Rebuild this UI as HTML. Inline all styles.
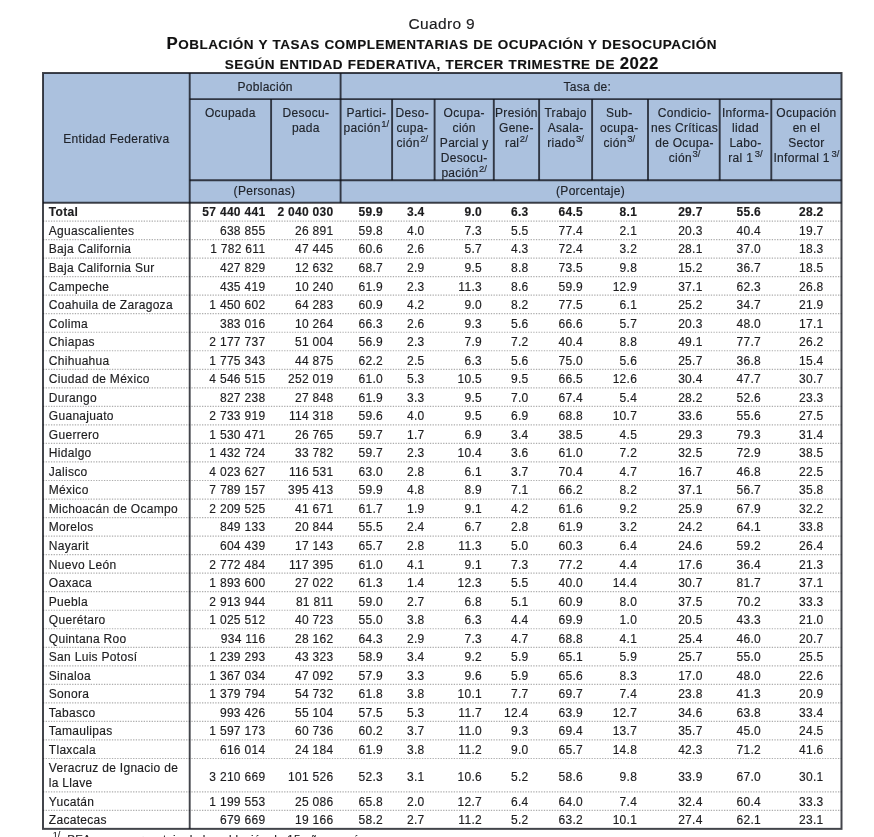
<!DOCTYPE html>
<html lang="es"><head><meta charset="utf-8"><title>Cuadro 9</title>
<style>
html,body{margin:0;padding:0;background:#fff;}
body{width:874px;height:837px;overflow:hidden;position:relative;font-family:"Liberation Sans",Arial,sans-serif;color:#1c1c1e;font-size:12px;letter-spacing:0.3px;-webkit-text-stroke:0.15px #1c1c1e;}
#lines{position:absolute;left:0;top:0;}
.t{position:absolute;left:4.8px;width:874px;text-align:center;white-space:nowrap;}
.t1{top:14.8px;font-size:15.5px;line-height:18px;text-indent:0px;letter-spacing:0.35px;}
.t2,.t3{font-weight:bold;font-size:13.5px;line-height:20px;letter-spacing:0.48px;word-spacing:0.5px;color:#111;}
.t2{top:33.5px;text-indent:0px;}
.t3{top:54.1px;text-indent:0px;letter-spacing:0.46px;}
.big{font-size:16.8px;}
.h{position:absolute;color:#20242b;-webkit-text-stroke-color:#20242b;text-align:center;line-height:15px;white-space:nowrap;}
.h sup{font-size:9.5px;line-height:0;vertical-align:baseline;position:relative;top:-4.5px;letter-spacing:0;margin-left:0.5px;}
.h sup.g{margin-left:1.6px;}
.r{position:absolute;left:0;width:874px;height:18.533px;line-height:18.533px;white-space:nowrap;}
.r.b{font-weight:bold;}
.r span{position:absolute;top:0.9px;}
.r .n{left:48.8px;}
.r .v{text-align:right;width:90px;}
.r.two{height:33.3px;line-height:33.3px;}
.r.two .n{line-height:14.8px;top:2.8px;}
.r.two .v{top:2.2px;}
.fn{position:absolute;left:67.3px;top:832.2px;font-size:11.4px;line-height:14px;white-space:nowrap;}
.fs{position:absolute;left:52.8px;top:829.5px;font-size:9px;line-height:10px;white-space:nowrap;letter-spacing:0;}
</style></head><body>
<svg id="lines" width="874" height="837" viewBox="0 0 874 837"><rect x="43" y="73" width="798.5" height="129.7" fill="#abc1de"/>
<line x1="43" y1="221.03" x2="841.5" y2="221.03" stroke="#adadad" stroke-width="1.2" stroke-dasharray="1.3 1.35"/>
<line x1="43" y1="239.57" x2="841.5" y2="239.57" stroke="#adadad" stroke-width="1.2" stroke-dasharray="1.3 1.35"/>
<line x1="43" y1="258.1" x2="841.5" y2="258.1" stroke="#adadad" stroke-width="1.2" stroke-dasharray="1.3 1.35"/>
<line x1="43" y1="276.63" x2="841.5" y2="276.63" stroke="#adadad" stroke-width="1.2" stroke-dasharray="1.3 1.35"/>
<line x1="43" y1="295.17" x2="841.5" y2="295.17" stroke="#adadad" stroke-width="1.2" stroke-dasharray="1.3 1.35"/>
<line x1="43" y1="313.7" x2="841.5" y2="313.7" stroke="#adadad" stroke-width="1.2" stroke-dasharray="1.3 1.35"/>
<line x1="43" y1="332.23" x2="841.5" y2="332.23" stroke="#adadad" stroke-width="1.2" stroke-dasharray="1.3 1.35"/>
<line x1="43" y1="350.76" x2="841.5" y2="350.76" stroke="#adadad" stroke-width="1.2" stroke-dasharray="1.3 1.35"/>
<line x1="43" y1="369.3" x2="841.5" y2="369.3" stroke="#adadad" stroke-width="1.2" stroke-dasharray="1.3 1.35"/>
<line x1="43" y1="387.83" x2="841.5" y2="387.83" stroke="#adadad" stroke-width="1.2" stroke-dasharray="1.3 1.35"/>
<line x1="43" y1="406.36" x2="841.5" y2="406.36" stroke="#adadad" stroke-width="1.2" stroke-dasharray="1.3 1.35"/>
<line x1="43" y1="424.9" x2="841.5" y2="424.9" stroke="#adadad" stroke-width="1.2" stroke-dasharray="1.3 1.35"/>
<line x1="43" y1="443.43" x2="841.5" y2="443.43" stroke="#adadad" stroke-width="1.2" stroke-dasharray="1.3 1.35"/>
<line x1="43" y1="461.96" x2="841.5" y2="461.96" stroke="#adadad" stroke-width="1.2" stroke-dasharray="1.3 1.35"/>
<line x1="43" y1="480.5" x2="841.5" y2="480.5" stroke="#adadad" stroke-width="1.2" stroke-dasharray="1.3 1.35"/>
<line x1="43" y1="499.03" x2="841.5" y2="499.03" stroke="#adadad" stroke-width="1.2" stroke-dasharray="1.3 1.35"/>
<line x1="43" y1="517.56" x2="841.5" y2="517.56" stroke="#adadad" stroke-width="1.2" stroke-dasharray="1.3 1.35"/>
<line x1="43" y1="536.09" x2="841.5" y2="536.09" stroke="#adadad" stroke-width="1.2" stroke-dasharray="1.3 1.35"/>
<line x1="43" y1="554.63" x2="841.5" y2="554.63" stroke="#adadad" stroke-width="1.2" stroke-dasharray="1.3 1.35"/>
<line x1="43" y1="573.16" x2="841.5" y2="573.16" stroke="#adadad" stroke-width="1.2" stroke-dasharray="1.3 1.35"/>
<line x1="43" y1="591.69" x2="841.5" y2="591.69" stroke="#adadad" stroke-width="1.2" stroke-dasharray="1.3 1.35"/>
<line x1="43" y1="610.23" x2="841.5" y2="610.23" stroke="#adadad" stroke-width="1.2" stroke-dasharray="1.3 1.35"/>
<line x1="43" y1="628.76" x2="841.5" y2="628.76" stroke="#adadad" stroke-width="1.2" stroke-dasharray="1.3 1.35"/>
<line x1="43" y1="647.29" x2="841.5" y2="647.29" stroke="#adadad" stroke-width="1.2" stroke-dasharray="1.3 1.35"/>
<line x1="43" y1="665.83" x2="841.5" y2="665.83" stroke="#adadad" stroke-width="1.2" stroke-dasharray="1.3 1.35"/>
<line x1="43" y1="684.36" x2="841.5" y2="684.36" stroke="#adadad" stroke-width="1.2" stroke-dasharray="1.3 1.35"/>
<line x1="43" y1="702.89" x2="841.5" y2="702.89" stroke="#adadad" stroke-width="1.2" stroke-dasharray="1.3 1.35"/>
<line x1="43" y1="721.42" x2="841.5" y2="721.42" stroke="#adadad" stroke-width="1.2" stroke-dasharray="1.3 1.35"/>
<line x1="43" y1="739.96" x2="841.5" y2="739.96" stroke="#adadad" stroke-width="1.2" stroke-dasharray="1.3 1.35"/>
<line x1="43" y1="758.49" x2="841.5" y2="758.49" stroke="#adadad" stroke-width="1.2" stroke-dasharray="1.3 1.35"/>
<line x1="43" y1="791.79" x2="841.5" y2="791.79" stroke="#adadad" stroke-width="1.2" stroke-dasharray="1.3 1.35"/>
<line x1="43" y1="810.32" x2="841.5" y2="810.32" stroke="#adadad" stroke-width="1.2" stroke-dasharray="1.3 1.35"/>
<rect x="43" y="73" width="798.5" height="755.86" fill="none" stroke="rgba(14,17,24,0.78)" stroke-width="2"/>
<line x1="189.7" y1="99.1" x2="841.5" y2="99.1" stroke="rgba(14,17,24,0.78)" stroke-width="1.9" />
<line x1="189.7" y1="180.2" x2="841.5" y2="180.2" stroke="rgba(14,17,24,0.78)" stroke-width="1.9" />
<line x1="43" y1="202.7" x2="841.5" y2="202.7" stroke="rgba(14,17,24,0.78)" stroke-width="2" />
<line x1="189.7" y1="73" x2="189.7" y2="828.8560000000004" stroke="rgba(14,17,24,0.78)" stroke-width="1.9"/>
<line x1="340.6" y1="73" x2="340.6" y2="202.7" stroke="rgba(14,17,24,0.78)" stroke-width="1.9"/>
<line x1="271.1" y1="99.1" x2="271.1" y2="180.2" stroke="rgba(14,17,24,0.78)" stroke-width="1.9"/>
<line x1="392.1" y1="99.1" x2="392.1" y2="180.2" stroke="rgba(14,17,24,0.78)" stroke-width="1.9"/>
<line x1="434.6" y1="99.1" x2="434.6" y2="180.2" stroke="rgba(14,17,24,0.78)" stroke-width="1.9"/>
<line x1="493.8" y1="99.1" x2="493.8" y2="180.2" stroke="rgba(14,17,24,0.78)" stroke-width="1.9"/>
<line x1="539.1" y1="99.1" x2="539.1" y2="180.2" stroke="rgba(14,17,24,0.78)" stroke-width="1.9"/>
<line x1="592.1" y1="99.1" x2="592.1" y2="180.2" stroke="rgba(14,17,24,0.78)" stroke-width="1.9"/>
<line x1="648" y1="99.1" x2="648" y2="180.2" stroke="rgba(14,17,24,0.78)" stroke-width="1.9"/>
<line x1="719.7" y1="99.1" x2="719.7" y2="180.2" stroke="rgba(14,17,24,0.78)" stroke-width="1.9"/>
<line x1="771.3" y1="99.1" x2="771.3" y2="180.2" stroke="rgba(14,17,24,0.78)" stroke-width="1.9"/></svg>
<div class="t t1">Cuadro 9</div>
<div class="t t2"><span class="big">P</span>OBLACIÓN Y TASAS COMPLEMENTARIAS DE OCUPACIÓN Y DESOCUPACIÓN</div>
<div class="t t3">SEGÚN ENTIDAD FEDERATIVA, TERCER TRIMESTRE DE <span class="big">2022</span></div>
<div class="h" style="left:43px;width:146.7px;top:131.7px">Entidad Federativa</div>
<div class="h" style="left:189.7px;width:150.9px;top:79.5px">Población</div>
<div class="h" style="left:336.9px;width:500.9px;top:79.5px">Tasa de:</div>
<div class="h" style="left:189.7px;width:81.4px;top:105.7px">Ocupada</div>
<div class="h" style="left:271.1px;width:69.5px;top:105.7px">Desocu-<br>pada</div>
<div class="h" style="left:340.6px;width:51.5px;top:105.7px">Partici-<br>pación<sup>1/</sup></div>
<div class="h" style="left:391.0px;width:42.5px;top:105.7px">Deso-<br>cupa-<br>ción<sup>2/</sup></div>
<div class="h" style="left:434.6px;width:59.2px;top:105.7px">Ocupa-<br>ción<br>Parcial y<br>Desocu-<br>pación<sup>2/</sup></div>
<div class="h" style="left:493.8px;width:45.3px;top:105.7px">Presión<br>Gene-<br>ral<sup>2/</sup></div>
<div class="h" style="left:539.1px;width:53.0px;top:105.7px">Trabajo<br>Asala-<br>riado<sup>3/</sup></div>
<div class="h" style="left:591.4px;width:55.9px;top:105.7px">Sub-<br>ocupa-<br>ción<sup>3/</sup></div>
<div class="h" style="left:648.7px;width:71.7px;top:105.7px">Condicio-<br>nes Críticas<br>de Ocupa-<br>ción<sup>3/</sup></div>
<div class="h" style="left:719.7px;width:51.6px;top:105.7px">Informa-<br>lidad<br>Labo-<br>ral 1<sup class="g">3/</sup></div>
<div class="h" style="left:771.3px;width:70.2px;top:105.7px">Ocupación<br>en el<br>Sector<br>Informal 1<sup class="g">3/</sup></div>
<div class="h" style="left:189.0px;width:150.9px;top:184.4px">(Personas)</div>
<div class="h" style="left:340.1px;width:500.9px;top:184.4px">(Porcentaje)</div>
<div class="r b" style="top:202.5px"><span class="n">Total</span><span class="v" style="left:175.4px">57 440 441</span><span class="v" style="left:243.5px">2 040 030</span><span class="v" style="left:293.1px">59.9</span><span class="v" style="left:334.6px">3.4</span><span class="v" style="left:392px">9.0</span><span class="v" style="left:438.6px">6.3</span><span class="v" style="left:493.1px">64.5</span><span class="v" style="left:547.2px">8.1</span><span class="v" style="left:612.7px">29.7</span><span class="v" style="left:671px">55.6</span><span class="v" style="left:733.5px">28.2</span></div>
<div class="r" style="top:221.03px"><span class="n">Aguascalientes</span><span class="v" style="left:175.4px">638 855</span><span class="v" style="left:243.5px">26 891</span><span class="v" style="left:293.1px">59.8</span><span class="v" style="left:334.6px">4.0</span><span class="v" style="left:392px">7.3</span><span class="v" style="left:438.6px">5.5</span><span class="v" style="left:493.1px">77.4</span><span class="v" style="left:547.2px">2.1</span><span class="v" style="left:612.7px">20.3</span><span class="v" style="left:671px">40.4</span><span class="v" style="left:733.5px">19.7</span></div>
<div class="r" style="top:239.57px"><span class="n">Baja California</span><span class="v" style="left:175.4px">1 782 611</span><span class="v" style="left:243.5px">47 445</span><span class="v" style="left:293.1px">60.6</span><span class="v" style="left:334.6px">2.6</span><span class="v" style="left:392px">5.7</span><span class="v" style="left:438.6px">4.3</span><span class="v" style="left:493.1px">72.4</span><span class="v" style="left:547.2px">3.2</span><span class="v" style="left:612.7px">28.1</span><span class="v" style="left:671px">37.0</span><span class="v" style="left:733.5px">18.3</span></div>
<div class="r" style="top:258.1px"><span class="n">Baja California Sur</span><span class="v" style="left:175.4px">427 829</span><span class="v" style="left:243.5px">12 632</span><span class="v" style="left:293.1px">68.7</span><span class="v" style="left:334.6px">2.9</span><span class="v" style="left:392px">9.5</span><span class="v" style="left:438.6px">8.8</span><span class="v" style="left:493.1px">73.5</span><span class="v" style="left:547.2px">9.8</span><span class="v" style="left:612.7px">15.2</span><span class="v" style="left:671px">36.7</span><span class="v" style="left:733.5px">18.5</span></div>
<div class="r" style="top:276.63px"><span class="n">Campeche</span><span class="v" style="left:175.4px">435 419</span><span class="v" style="left:243.5px">10 240</span><span class="v" style="left:293.1px">61.9</span><span class="v" style="left:334.6px">2.3</span><span class="v" style="left:392px">11.3</span><span class="v" style="left:438.6px">8.6</span><span class="v" style="left:493.1px">59.9</span><span class="v" style="left:547.2px">12.9</span><span class="v" style="left:612.7px">37.1</span><span class="v" style="left:671px">62.3</span><span class="v" style="left:733.5px">26.8</span></div>
<div class="r" style="top:295.17px"><span class="n">Coahuila de Zaragoza</span><span class="v" style="left:175.4px">1 450 602</span><span class="v" style="left:243.5px">64 283</span><span class="v" style="left:293.1px">60.9</span><span class="v" style="left:334.6px">4.2</span><span class="v" style="left:392px">9.0</span><span class="v" style="left:438.6px">8.2</span><span class="v" style="left:493.1px">77.5</span><span class="v" style="left:547.2px">6.1</span><span class="v" style="left:612.7px">25.2</span><span class="v" style="left:671px">34.7</span><span class="v" style="left:733.5px">21.9</span></div>
<div class="r" style="top:313.7px"><span class="n">Colima</span><span class="v" style="left:175.4px">383 016</span><span class="v" style="left:243.5px">10 264</span><span class="v" style="left:293.1px">66.3</span><span class="v" style="left:334.6px">2.6</span><span class="v" style="left:392px">9.3</span><span class="v" style="left:438.6px">5.6</span><span class="v" style="left:493.1px">66.6</span><span class="v" style="left:547.2px">5.7</span><span class="v" style="left:612.7px">20.3</span><span class="v" style="left:671px">48.0</span><span class="v" style="left:733.5px">17.1</span></div>
<div class="r" style="top:332.23px"><span class="n">Chiapas</span><span class="v" style="left:175.4px">2 177 737</span><span class="v" style="left:243.5px">51 004</span><span class="v" style="left:293.1px">56.9</span><span class="v" style="left:334.6px">2.3</span><span class="v" style="left:392px">7.9</span><span class="v" style="left:438.6px">7.2</span><span class="v" style="left:493.1px">40.4</span><span class="v" style="left:547.2px">8.8</span><span class="v" style="left:612.7px">49.1</span><span class="v" style="left:671px">77.7</span><span class="v" style="left:733.5px">26.2</span></div>
<div class="r" style="top:350.76px"><span class="n">Chihuahua</span><span class="v" style="left:175.4px">1 775 343</span><span class="v" style="left:243.5px">44 875</span><span class="v" style="left:293.1px">62.2</span><span class="v" style="left:334.6px">2.5</span><span class="v" style="left:392px">6.3</span><span class="v" style="left:438.6px">5.6</span><span class="v" style="left:493.1px">75.0</span><span class="v" style="left:547.2px">5.6</span><span class="v" style="left:612.7px">25.7</span><span class="v" style="left:671px">36.8</span><span class="v" style="left:733.5px">15.4</span></div>
<div class="r" style="top:369.3px"><span class="n">Ciudad de México</span><span class="v" style="left:175.4px">4 546 515</span><span class="v" style="left:243.5px">252 019</span><span class="v" style="left:293.1px">61.0</span><span class="v" style="left:334.6px">5.3</span><span class="v" style="left:392px">10.5</span><span class="v" style="left:438.6px">9.5</span><span class="v" style="left:493.1px">66.5</span><span class="v" style="left:547.2px">12.6</span><span class="v" style="left:612.7px">30.4</span><span class="v" style="left:671px">47.7</span><span class="v" style="left:733.5px">30.7</span></div>
<div class="r" style="top:387.83px"><span class="n">Durango</span><span class="v" style="left:175.4px">827 238</span><span class="v" style="left:243.5px">27 848</span><span class="v" style="left:293.1px">61.9</span><span class="v" style="left:334.6px">3.3</span><span class="v" style="left:392px">9.5</span><span class="v" style="left:438.6px">7.0</span><span class="v" style="left:493.1px">67.4</span><span class="v" style="left:547.2px">5.4</span><span class="v" style="left:612.7px">28.2</span><span class="v" style="left:671px">52.6</span><span class="v" style="left:733.5px">23.3</span></div>
<div class="r" style="top:406.36px"><span class="n">Guanajuato</span><span class="v" style="left:175.4px">2 733 919</span><span class="v" style="left:243.5px">114 318</span><span class="v" style="left:293.1px">59.6</span><span class="v" style="left:334.6px">4.0</span><span class="v" style="left:392px">9.5</span><span class="v" style="left:438.6px">6.9</span><span class="v" style="left:493.1px">68.8</span><span class="v" style="left:547.2px">10.7</span><span class="v" style="left:612.7px">33.6</span><span class="v" style="left:671px">55.6</span><span class="v" style="left:733.5px">27.5</span></div>
<div class="r" style="top:424.9px"><span class="n">Guerrero</span><span class="v" style="left:175.4px">1 530 471</span><span class="v" style="left:243.5px">26 765</span><span class="v" style="left:293.1px">59.7</span><span class="v" style="left:334.6px">1.7</span><span class="v" style="left:392px">6.9</span><span class="v" style="left:438.6px">3.4</span><span class="v" style="left:493.1px">38.5</span><span class="v" style="left:547.2px">4.5</span><span class="v" style="left:612.7px">29.3</span><span class="v" style="left:671px">79.3</span><span class="v" style="left:733.5px">31.4</span></div>
<div class="r" style="top:443.43px"><span class="n">Hidalgo</span><span class="v" style="left:175.4px">1 432 724</span><span class="v" style="left:243.5px">33 782</span><span class="v" style="left:293.1px">59.7</span><span class="v" style="left:334.6px">2.3</span><span class="v" style="left:392px">10.4</span><span class="v" style="left:438.6px">3.6</span><span class="v" style="left:493.1px">61.0</span><span class="v" style="left:547.2px">7.2</span><span class="v" style="left:612.7px">32.5</span><span class="v" style="left:671px">72.9</span><span class="v" style="left:733.5px">38.5</span></div>
<div class="r" style="top:461.96px"><span class="n">Jalisco</span><span class="v" style="left:175.4px">4 023 627</span><span class="v" style="left:243.5px">116 531</span><span class="v" style="left:293.1px">63.0</span><span class="v" style="left:334.6px">2.8</span><span class="v" style="left:392px">6.1</span><span class="v" style="left:438.6px">3.7</span><span class="v" style="left:493.1px">70.4</span><span class="v" style="left:547.2px">4.7</span><span class="v" style="left:612.7px">16.7</span><span class="v" style="left:671px">46.8</span><span class="v" style="left:733.5px">22.5</span></div>
<div class="r" style="top:480.5px"><span class="n">México</span><span class="v" style="left:175.4px">7 789 157</span><span class="v" style="left:243.5px">395 413</span><span class="v" style="left:293.1px">59.9</span><span class="v" style="left:334.6px">4.8</span><span class="v" style="left:392px">8.9</span><span class="v" style="left:438.6px">7.1</span><span class="v" style="left:493.1px">66.2</span><span class="v" style="left:547.2px">8.2</span><span class="v" style="left:612.7px">37.1</span><span class="v" style="left:671px">56.7</span><span class="v" style="left:733.5px">35.8</span></div>
<div class="r" style="top:499.03px"><span class="n">Michoacán de Ocampo</span><span class="v" style="left:175.4px">2 209 525</span><span class="v" style="left:243.5px">41 671</span><span class="v" style="left:293.1px">61.7</span><span class="v" style="left:334.6px">1.9</span><span class="v" style="left:392px">9.1</span><span class="v" style="left:438.6px">4.2</span><span class="v" style="left:493.1px">61.6</span><span class="v" style="left:547.2px">9.2</span><span class="v" style="left:612.7px">25.9</span><span class="v" style="left:671px">67.9</span><span class="v" style="left:733.5px">32.2</span></div>
<div class="r" style="top:517.56px"><span class="n">Morelos</span><span class="v" style="left:175.4px">849 133</span><span class="v" style="left:243.5px">20 844</span><span class="v" style="left:293.1px">55.5</span><span class="v" style="left:334.6px">2.4</span><span class="v" style="left:392px">6.7</span><span class="v" style="left:438.6px">2.8</span><span class="v" style="left:493.1px">61.9</span><span class="v" style="left:547.2px">3.2</span><span class="v" style="left:612.7px">24.2</span><span class="v" style="left:671px">64.1</span><span class="v" style="left:733.5px">33.8</span></div>
<div class="r" style="top:536.09px"><span class="n">Nayarit</span><span class="v" style="left:175.4px">604 439</span><span class="v" style="left:243.5px">17 143</span><span class="v" style="left:293.1px">65.7</span><span class="v" style="left:334.6px">2.8</span><span class="v" style="left:392px">11.3</span><span class="v" style="left:438.6px">5.0</span><span class="v" style="left:493.1px">60.3</span><span class="v" style="left:547.2px">6.4</span><span class="v" style="left:612.7px">24.6</span><span class="v" style="left:671px">59.2</span><span class="v" style="left:733.5px">26.4</span></div>
<div class="r" style="top:554.63px"><span class="n">Nuevo León</span><span class="v" style="left:175.4px">2 772 484</span><span class="v" style="left:243.5px">117 395</span><span class="v" style="left:293.1px">61.0</span><span class="v" style="left:334.6px">4.1</span><span class="v" style="left:392px">9.1</span><span class="v" style="left:438.6px">7.3</span><span class="v" style="left:493.1px">77.2</span><span class="v" style="left:547.2px">4.4</span><span class="v" style="left:612.7px">17.6</span><span class="v" style="left:671px">36.4</span><span class="v" style="left:733.5px">21.3</span></div>
<div class="r" style="top:573.16px"><span class="n">Oaxaca</span><span class="v" style="left:175.4px">1 893 600</span><span class="v" style="left:243.5px">27 022</span><span class="v" style="left:293.1px">61.3</span><span class="v" style="left:334.6px">1.4</span><span class="v" style="left:392px">12.3</span><span class="v" style="left:438.6px">5.5</span><span class="v" style="left:493.1px">40.0</span><span class="v" style="left:547.2px">14.4</span><span class="v" style="left:612.7px">30.7</span><span class="v" style="left:671px">81.7</span><span class="v" style="left:733.5px">37.1</span></div>
<div class="r" style="top:591.69px"><span class="n">Puebla</span><span class="v" style="left:175.4px">2 913 944</span><span class="v" style="left:243.5px">81 811</span><span class="v" style="left:293.1px">59.0</span><span class="v" style="left:334.6px">2.7</span><span class="v" style="left:392px">6.8</span><span class="v" style="left:438.6px">5.1</span><span class="v" style="left:493.1px">60.9</span><span class="v" style="left:547.2px">8.0</span><span class="v" style="left:612.7px">37.5</span><span class="v" style="left:671px">70.2</span><span class="v" style="left:733.5px">33.3</span></div>
<div class="r" style="top:610.23px"><span class="n">Querétaro</span><span class="v" style="left:175.4px">1 025 512</span><span class="v" style="left:243.5px">40 723</span><span class="v" style="left:293.1px">55.0</span><span class="v" style="left:334.6px">3.8</span><span class="v" style="left:392px">6.3</span><span class="v" style="left:438.6px">4.4</span><span class="v" style="left:493.1px">69.9</span><span class="v" style="left:547.2px">1.0</span><span class="v" style="left:612.7px">20.5</span><span class="v" style="left:671px">43.3</span><span class="v" style="left:733.5px">21.0</span></div>
<div class="r" style="top:628.76px"><span class="n">Quintana Roo</span><span class="v" style="left:175.4px">934 116</span><span class="v" style="left:243.5px">28 162</span><span class="v" style="left:293.1px">64.3</span><span class="v" style="left:334.6px">2.9</span><span class="v" style="left:392px">7.3</span><span class="v" style="left:438.6px">4.7</span><span class="v" style="left:493.1px">68.8</span><span class="v" style="left:547.2px">4.1</span><span class="v" style="left:612.7px">25.4</span><span class="v" style="left:671px">46.0</span><span class="v" style="left:733.5px">20.7</span></div>
<div class="r" style="top:647.29px"><span class="n">San Luis Potosí</span><span class="v" style="left:175.4px">1 239 293</span><span class="v" style="left:243.5px">43 323</span><span class="v" style="left:293.1px">58.9</span><span class="v" style="left:334.6px">3.4</span><span class="v" style="left:392px">9.2</span><span class="v" style="left:438.6px">5.9</span><span class="v" style="left:493.1px">65.1</span><span class="v" style="left:547.2px">5.9</span><span class="v" style="left:612.7px">25.7</span><span class="v" style="left:671px">55.0</span><span class="v" style="left:733.5px">25.5</span></div>
<div class="r" style="top:665.83px"><span class="n">Sinaloa</span><span class="v" style="left:175.4px">1 367 034</span><span class="v" style="left:243.5px">47 092</span><span class="v" style="left:293.1px">57.9</span><span class="v" style="left:334.6px">3.3</span><span class="v" style="left:392px">9.6</span><span class="v" style="left:438.6px">5.9</span><span class="v" style="left:493.1px">65.6</span><span class="v" style="left:547.2px">8.3</span><span class="v" style="left:612.7px">17.0</span><span class="v" style="left:671px">48.0</span><span class="v" style="left:733.5px">22.6</span></div>
<div class="r" style="top:684.36px"><span class="n">Sonora</span><span class="v" style="left:175.4px">1 379 794</span><span class="v" style="left:243.5px">54 732</span><span class="v" style="left:293.1px">61.8</span><span class="v" style="left:334.6px">3.8</span><span class="v" style="left:392px">10.1</span><span class="v" style="left:438.6px">7.7</span><span class="v" style="left:493.1px">69.7</span><span class="v" style="left:547.2px">7.4</span><span class="v" style="left:612.7px">23.8</span><span class="v" style="left:671px">41.3</span><span class="v" style="left:733.5px">20.9</span></div>
<div class="r" style="top:702.89px"><span class="n">Tabasco</span><span class="v" style="left:175.4px">993 426</span><span class="v" style="left:243.5px">55 104</span><span class="v" style="left:293.1px">57.5</span><span class="v" style="left:334.6px">5.3</span><span class="v" style="left:392px">11.7</span><span class="v" style="left:438.6px">12.4</span><span class="v" style="left:493.1px">63.9</span><span class="v" style="left:547.2px">12.7</span><span class="v" style="left:612.7px">34.6</span><span class="v" style="left:671px">63.8</span><span class="v" style="left:733.5px">33.4</span></div>
<div class="r" style="top:721.42px"><span class="n">Tamaulipas</span><span class="v" style="left:175.4px">1 597 173</span><span class="v" style="left:243.5px">60 736</span><span class="v" style="left:293.1px">60.2</span><span class="v" style="left:334.6px">3.7</span><span class="v" style="left:392px">11.0</span><span class="v" style="left:438.6px">9.3</span><span class="v" style="left:493.1px">69.4</span><span class="v" style="left:547.2px">13.7</span><span class="v" style="left:612.7px">35.7</span><span class="v" style="left:671px">45.0</span><span class="v" style="left:733.5px">24.5</span></div>
<div class="r" style="top:739.96px"><span class="n">Tlaxcala</span><span class="v" style="left:175.4px">616 014</span><span class="v" style="left:243.5px">24 184</span><span class="v" style="left:293.1px">61.9</span><span class="v" style="left:334.6px">3.8</span><span class="v" style="left:392px">11.2</span><span class="v" style="left:438.6px">9.0</span><span class="v" style="left:493.1px">65.7</span><span class="v" style="left:547.2px">14.8</span><span class="v" style="left:612.7px">42.3</span><span class="v" style="left:671px">71.2</span><span class="v" style="left:733.5px">41.6</span></div>
<div class="r two" style="top:758.49px"><span class="n">Veracruz de Ignacio de<br>la Llave</span><span class="v" style="left:175.4px">3 210 669</span><span class="v" style="left:243.5px">101 526</span><span class="v" style="left:293.1px">52.3</span><span class="v" style="left:334.6px">3.1</span><span class="v" style="left:392px">10.6</span><span class="v" style="left:438.6px">5.2</span><span class="v" style="left:493.1px">58.6</span><span class="v" style="left:547.2px">9.8</span><span class="v" style="left:612.7px">33.9</span><span class="v" style="left:671px">67.0</span><span class="v" style="left:733.5px">30.1</span></div>
<div class="r" style="top:791.79px"><span class="n">Yucatán</span><span class="v" style="left:175.4px">1 199 553</span><span class="v" style="left:243.5px">25 086</span><span class="v" style="left:293.1px">65.8</span><span class="v" style="left:334.6px">2.0</span><span class="v" style="left:392px">12.7</span><span class="v" style="left:438.6px">6.4</span><span class="v" style="left:493.1px">64.0</span><span class="v" style="left:547.2px">7.4</span><span class="v" style="left:612.7px">32.4</span><span class="v" style="left:671px">60.4</span><span class="v" style="left:733.5px">33.3</span></div>
<div class="r" style="top:810.32px"><span class="n">Zacatecas</span><span class="v" style="left:175.4px">679 669</span><span class="v" style="left:243.5px">19 166</span><span class="v" style="left:293.1px">58.2</span><span class="v" style="left:334.6px">2.7</span><span class="v" style="left:392px">11.2</span><span class="v" style="left:438.6px">5.2</span><span class="v" style="left:493.1px">63.2</span><span class="v" style="left:547.2px">10.1</span><span class="v" style="left:612.7px">27.4</span><span class="v" style="left:671px">62.1</span><span class="v" style="left:733.5px">23.1</span></div>
<div class="fs">1/</div><div class="fn">PEA como porcentaje de la población de 15 años y más.</div>
</body></html>
